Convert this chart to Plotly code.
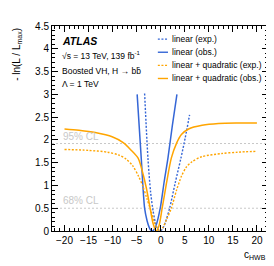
import plotly.graph_objects as go

# ---------------- data ----------------
lin_exp_x = [-3.35, -2.66, -2.1, -1.6, -1.1, -0.6, -0.1, 0.4, 1.0, 1.85, 3.0, 4.2, 5.1, 6.0]
lin_exp_y = [3.02, 1.6, 0.85, 0.45, 0.18, 0.04, 0.0, 0.05, 0.2, 0.5, 1.05, 1.6, 2.05, 2.55]

lin_obs_x = [-4.9, -4.05, -3.35, -2.85, -2.4, -2.05, -1.77, -1.45, -1.0, -0.1, 0.7, 1.5, 2.4, 3.37]
lin_obs_y = [3.0, 1.6, 0.5, 0.23, 0.08, 0.016, 0.0, 0.02, 0.11, 0.5, 1.07, 1.6, 2.3, 3.0]

quad_exp_x = [-20, -15, -11, -8.8, -7.2, -5.8, -4.6, -3.7, -2.9, -2.0, -1.3, -0.7, -0.37,
              0.4, 1.2, 2.2, 3.3, 4.3, 5.3, 6.5, 8.5, 12.7, 16, 20]
quad_exp_y = [1.79, 1.77, 1.73, 1.67, 1.58, 1.43, 1.2, 0.98, 0.72, 0.43, 0.18, 0.05, 0.0,
              0.07, 0.25, 0.5, 0.9, 1.2, 1.4, 1.52, 1.63, 1.70, 1.73, 1.75]

quad_obs_x = [-20, -17, -13.6, -10.1, -7.8, -6.2, -4.7, -3.8, -3.0, -2.2, -1.6, -0.94,
              -0.4, 0.3, 1.2, 2.2, 3.3, 4.3, 5.8, 8.6, 12, 16, 20]
quad_obs_y = [2.24, 2.21, 2.16, 2.07, 1.94, 1.78, 1.6, 1.3, 0.95, 0.5, 0.17, 0.0,
              0.1, 0.5, 1.05, 1.6, 1.93, 2.12, 2.24, 2.32, 2.36, 2.37, 2.37]

cl_levels = [1.92, 0.5]
cl_labels = ["95% CL", "68% CL"]

series_names = ["linear (exp.)", "linear (obs.)",
                "linear + quadratic (exp.)", "linear + quadratic (obs.)"]

x_tick_vals = [-20, -15, -10, -5, 0, 5, 10, 15, 20]
y_tick_vals = [0, 0.5, 1, 1.5, 2, 2.5, 3, 3.5, 4, 4.5]

info_lines = ["<b><i>ATLAS</i></b>",
              "√s = 13 TeV, 139 fb<sup>-1</sup>",
              "Boosted VH, H → bb\u0304",
              "Λ = 1 TeV"]

# ---------------- styles ----------------
BLUE = "#3566d6"
ORANGE = "#ffa500"
FONT = "Liberation Sans, Arial, Helvetica, sans-serif"
DOT = "2px,1.6px"

styles = [
    dict(color=BLUE, dash=DOT, width=1.4),
    dict(color=BLUE, dash="solid", width=1.5),
    dict(color=ORANGE, dash=DOT, width=1.4),
    dict(color=ORANGE, dash="solid", width=1.5),
]
series = [(lin_exp_x, lin_exp_y), (lin_obs_x, lin_obs_y),
          (quad_exp_x, quad_exp_y), (quad_obs_x, quad_obs_y)]

fig = go.Figure()

for (xs, ys), st, nm in zip(series, styles, series_names):
    fig.add_trace(go.Scatter(x=xs, y=ys, mode="lines", name=nm,
                             line=dict(shape="spline", smoothing=0.8, **st),
                             showlegend=False))

# CL reference lines and labels
shapes = []
annotations = []
for lvl, lab in zip(cl_levels, cl_labels):
    shapes.append(dict(type="line", xref="paper", yref="y", x0=0, x1=1, y0=lvl, y1=lvl,
                       line=dict(color="#c8c8c8", width=1, dash="2px,2px"), layer="below"))
    annotations.append(dict(text=lab, xref="paper", yref="y", x=0.04, y=lvl,
                            xanchor="left", yanchor="bottom", showarrow=False,
                            font=dict(size=10, color="#c8c8c8", family=FONT)))

# info text
info_y = [0.925, 0.856, 0.782, 0.716]
info_size = [10.5, 8.5, 8.5, 8.5]
for t, yy, sz in zip(info_lines, info_y, info_size):
    annotations.append(dict(text=t, xref="paper", yref="paper", x=0.035, y=yy,
                            xanchor="left", yanchor="middle", showarrow=False,
                            font=dict(size=sz, color="black", family=FONT)))

# manual legend
leg_y = [0.936, 0.872, 0.808, 0.744]
for st, nm, yy in zip(styles, series_names, leg_y):
    shapes.append(dict(type="line", xref="paper", yref="paper", x0=0.49, x1=0.537,
                       y0=yy, y1=yy, line=dict(color=st["color"], width=1.4,
                                               dash=st["dash"])))
    annotations.append(dict(text=nm, xref="paper", yref="paper", x=0.546, y=yy,
                            xanchor="left", yanchor="middle", showarrow=False,
                            font=dict(size=8.5, color="black", family=FONT)))

# axis titles
annotations.append(dict(text="c<sub>HWB</sub>", xref="paper", yref="paper", x=1.0, y=-0.115,
                        xanchor="right", yanchor="middle", showarrow=False,
                        font=dict(size=10, color="black", family=FONT)))
annotations.append(dict(text="- ln(L / L<sub>max</sub>)", xref="paper", yref="paper",
                        x=-0.165, y=1.0, xanchor="center", yanchor="top", textangle=-90,
                        showarrow=False, font=dict(size=10, color="black", family=FONT)))

axis_common = dict(showline=True, linecolor="black", linewidth=1, mirror="ticks",
                   ticks="inside", ticklen=6, tickcolor="black", tickwidth=1,
                   showgrid=False, zeroline=False,
                   tickfont=dict(size=10, color="black", family=FONT))

fig.update_xaxes(range=[-22.6, 22.3], tickvals=x_tick_vals,
                 minor=dict(dtick=1, ticks="inside", ticklen=3, tickcolor="black"),
                 **axis_common)
fig.update_yaxes(range=[0, 4.5], tickvals=y_tick_vals,
                 minor=dict(dtick=0.1, ticks="inside", ticklen=3, tickcolor="black"),
                 **axis_common)

fig.update_layout(width=274, height=266,
                  margin=dict(l=44, r=14, t=15, b=43),
                  paper_bgcolor="white", plot_bgcolor="white",
                  shapes=shapes, annotations=annotations,
                  font=dict(family=FONT, color="black"))

fig.write_html("out.html")
